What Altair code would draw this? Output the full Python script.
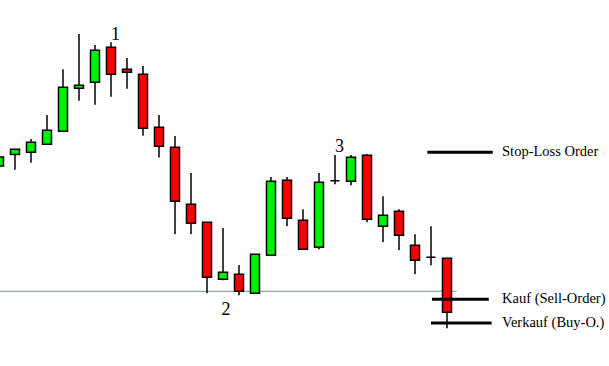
import altair as alt
import pandas as pd

# Candle data (price units)
idx = list(range(29))
open_ = [23.4, 24.56, 24.77, 25.57, 26.87, 31.17, 31.77, 35.27, 33.07, 32.57, 27.27, 25.27, 19.57, 17.77, 12.07, 12.57, 10.67, 14.47, 21.97, 17.97, 15.27, 21.93, 21.87, 24.47, 17.37, 18.87, 15.47, 14.27, 14.17]
close = [24.3, 25.07, 25.77, 26.97, 31.27, 31.47, 34.97, 32.57, 32.77, 27.17, 25.37, 19.87, 17.67, 12.27, 12.77, 10.87, 14.57, 21.87, 18.17, 15.07, 21.77, 21.93, 24.27, 18.07, 18.47, 16.47, 13.97, 14.27, 8.77]
high = [24.3, 25.07, 26.1, 28.5, 33.07, 36.6, 35.5, 35.77, 34.2, 33.4, 28.5, 26.4, 22.7, 17.77, 17.2, 13.5, 14.57, 22.3, 22.3, 19.07, 22.7, 24.5, 24.5, 24.6, 20.37, 19.07, 16.57, 17.37, 14.17]
low = [23.4, 23.03, 23.73, 25.57, 26.87, 29.93, 29.53, 30.33, 31.13, 26.43, 24.25, 16.57, 16.57, 10.67, 11.97, 10.47, 10.67, 14.47, 17.37, 15.07, 15.07, 21.57, 21.47, 17.77, 15.77, 14.97, 12.57, 13.47, 7.17]

# Annotations
label_text = ["1", "2", "3"]
label_x = [7.28, 14.18, 21.28]
label_y = [36.55, 9.05, 25.35]

order_text = ["Stop-Loss Order", "Kauf (Sell-Order)", "Verkauf (Buy-O.)"]
order_price = [24.77, 10.07, 7.7]
order_x1 = [26.77, 27.06, 27.0]
order_x2 = [30.86, 30.61, 30.79]
text_x = 31.44

support_price = 10.87
support_x1 = 0.0625
support_x2 = 28.6

df = pd.DataFrame({"i": idx, "open": open_, "close": close, "high": high, "low": low})
df["up"] = df["close"] >= df["open"]
lab = pd.DataFrame({"x": label_x, "y": label_y, "t": label_text})
orders = pd.DataFrame({"t": order_text, "p": order_price, "x1": order_x1, "x2": order_x2, "tx": [text_x] * 3})
sup = pd.DataFrame({"p": [support_price], "x1": [support_x1], "x2": [support_x2]})

xs = alt.Scale(domain=[0.0625, 38.125], nice=False, zero=False, padding=0)
ys = alt.Scale(domain=[3.4, 40.0], nice=False, zero=False, padding=0)
X = lambda f: alt.X(f, type="quantitative", scale=xs, axis=None)
Y = lambda f: alt.Y(f, type="quantitative", scale=ys, axis=None)

base = alt.Chart(df)

support = alt.Chart(sup).mark_rule(color="#7f8c8d", strokeWidth=1).encode(
    x=X("x1"), x2="x2", y=Y("p"))

wicks = base.mark_rule(color="black", strokeWidth=1.5).encode(
    x=X("i"), y=Y("low"), y2="high")

bodies = base.mark_bar(size=9, stroke="black", strokeWidth=1.5).encode(
    x=X("i"), y=Y("open"), y2="close",
    color=alt.Color("up:N", scale=alt.Scale(domain=[True, False], range=["#00ee00", "#ff0000"]), legend=None))

order_lines = alt.Chart(orders).mark_rule(color="black", strokeWidth=3).encode(
    x=X("x1"), x2="x2", y=Y("p"))

order_labels = alt.Chart(orders).mark_text(
    align="left", baseline="middle", font="Liberation Serif", fontSize=14.5, color="black").encode(
    x=X("tx"), y=Y("p"), text="t:N")

labels = alt.Chart(lab).mark_text(
    align="center", baseline="middle", font="Liberation Serif", fontSize=18, color="black").encode(
    x=X("x"), y=Y("y"), text="t:N")

chart = alt.layer(support, wicks, bodies, order_lines, order_labels, labels).properties(
    width=609, height=366, autosize=alt.AutoSizeParams(type="none"), padding=0,
    background="white"
).configure_view(stroke=None)

chart.save("out.html", embed_options={"renderer": "svg", "actions": False})
